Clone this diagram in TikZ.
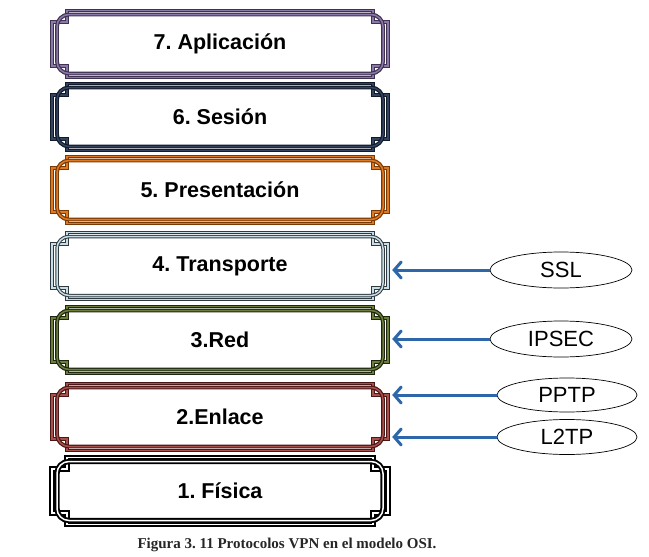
\documentclass[tikz,border=0pt]{standalone}
\usepackage{fontspec}
\setmainfont{Liberation Sans}
\newfontfamily\capfont{Liberation Serif}
\usepackage{tikz}
\usetikzlibrary{calc,arrows.meta,shapes.geometric}
\frenchspacing
\definecolor{aplicD}{HTML}{3F3151}
\definecolor{aplicL}{HTML}{8A78A8}
\definecolor{sesionD}{HTML}{111A2B}
\definecolor{sesionL}{HTML}{34445F}
\definecolor{presD}{HTML}{7A3A06}
\definecolor{presL}{HTML}{E07A22}
\definecolor{transD}{HTML}{2E3A40}
\definecolor{transL}{HTML}{C9DDE6}
\definecolor{redD}{HTML}{1E2610}
\definecolor{redL}{HTML}{6B7F3A}
\definecolor{enlD}{HTML}{4A1716}
\definecolor{enlL}{HTML}{A8504C}
\definecolor{fisD}{HTML}{000000}
\definecolor{fisL}{HTML}{FFFFFF}
\definecolor{vpnblue}{RGB}{46,102,170}
\definecolor{captxt}{HTML}{262626}
\tikzset{
  osiframe/.style n args={3}{draw=#1, double=#2, line width=#3, double distance=1.5pt},
  layer/.style={font=\bfseries\fontsize{21.5}{25}\selectfont, minimum width=344pt, minimum height=67pt, inner sep=0pt},
  proto/.style={ellipse, draw, line width=0.7pt, minimum width=142pt, minimum height=36pt, inner sep=0pt, font=\fontsize{22}{26}\selectfont},
  vpnarrow/.style={draw=vpnblue, line width=3pt, -{Straight Barb[length=7pt, width=16pt, line cap=round]}},
}

\begin{document}
\begin{tikzpicture}[x=1pt, y=-1pt]
  \useasboundingbox (0,0) rectangle (649,557);
  % osi layers
  \foreach \n/\y/\dc/\fc/\lw/\txt in {7/44/aplicD/aplicL/1.2pt/7. Aplicación,
                                      6/117/sesionD/sesionL/1.2pt/6. Sesión,
                                      5/190/presD/presL/1.2pt/5. Presentación,
                                      4/266/transD/transL/1.0pt/4. Transporte,
                                      3/340/redD/redL/1.2pt/3.Red,
                                      2/417/enlD/enlL/1.2pt/2.Enlace,
                                      1/491/fisD/fisL/1.9pt/1. Física} {
    \begin{scope}[shift={(220,\y)}]
      \draw[osiframe={\dc}{\fc}{\lw}] (-153,-33.5) -- (153,-33.5) -- (153,-22) -- (168,-22)
        -- (168,22) -- (153,22) -- (153,33.5) -- (-153,33.5) -- (-153,22) -- (-168,22)
        -- (-168,-22) -- (-153,-22) -- cycle;
      \draw[osiframe={\dc}{\fc}{\lw}, rounded corners=12pt] (-163,-29.5) rectangle (163,29.5);
    \end{scope}
    \node[layer] (l\n) at (220,\y) {\txt};
  }
  % protocols
  \node[proto] (ssl) at (561,270) {SSL};
  \node[proto] (ipsec) at (561,339) {IPSEC};
  \node[proto, minimum width=140pt, minimum height=34pt] (pptp) at (567,395) {PPTP};
  \node[proto, minimum width=140pt, minimum height=35pt] (ltwotp) at (567,437) {L2TP};
  % arrows
  \draw[vpnarrow] (ssl) -- (ssl -| l4.east);
  \draw[vpnarrow] (ipsec) -- (ipsec -| l3.east);
  \draw[vpnarrow] (pptp) -- (pptp -| l2.east);
  \draw[vpnarrow] (ltwotp) -- (ltwotp -| l2.east);
  % caption
  \node[font=\capfont\bfseries\fontsize{15}{18}\selectfont, text=captxt] (cap) at (287,545)
    {Figura 3. 11 Protocolos VPN en el modelo OSI.};
\end{tikzpicture}
\end{document}
